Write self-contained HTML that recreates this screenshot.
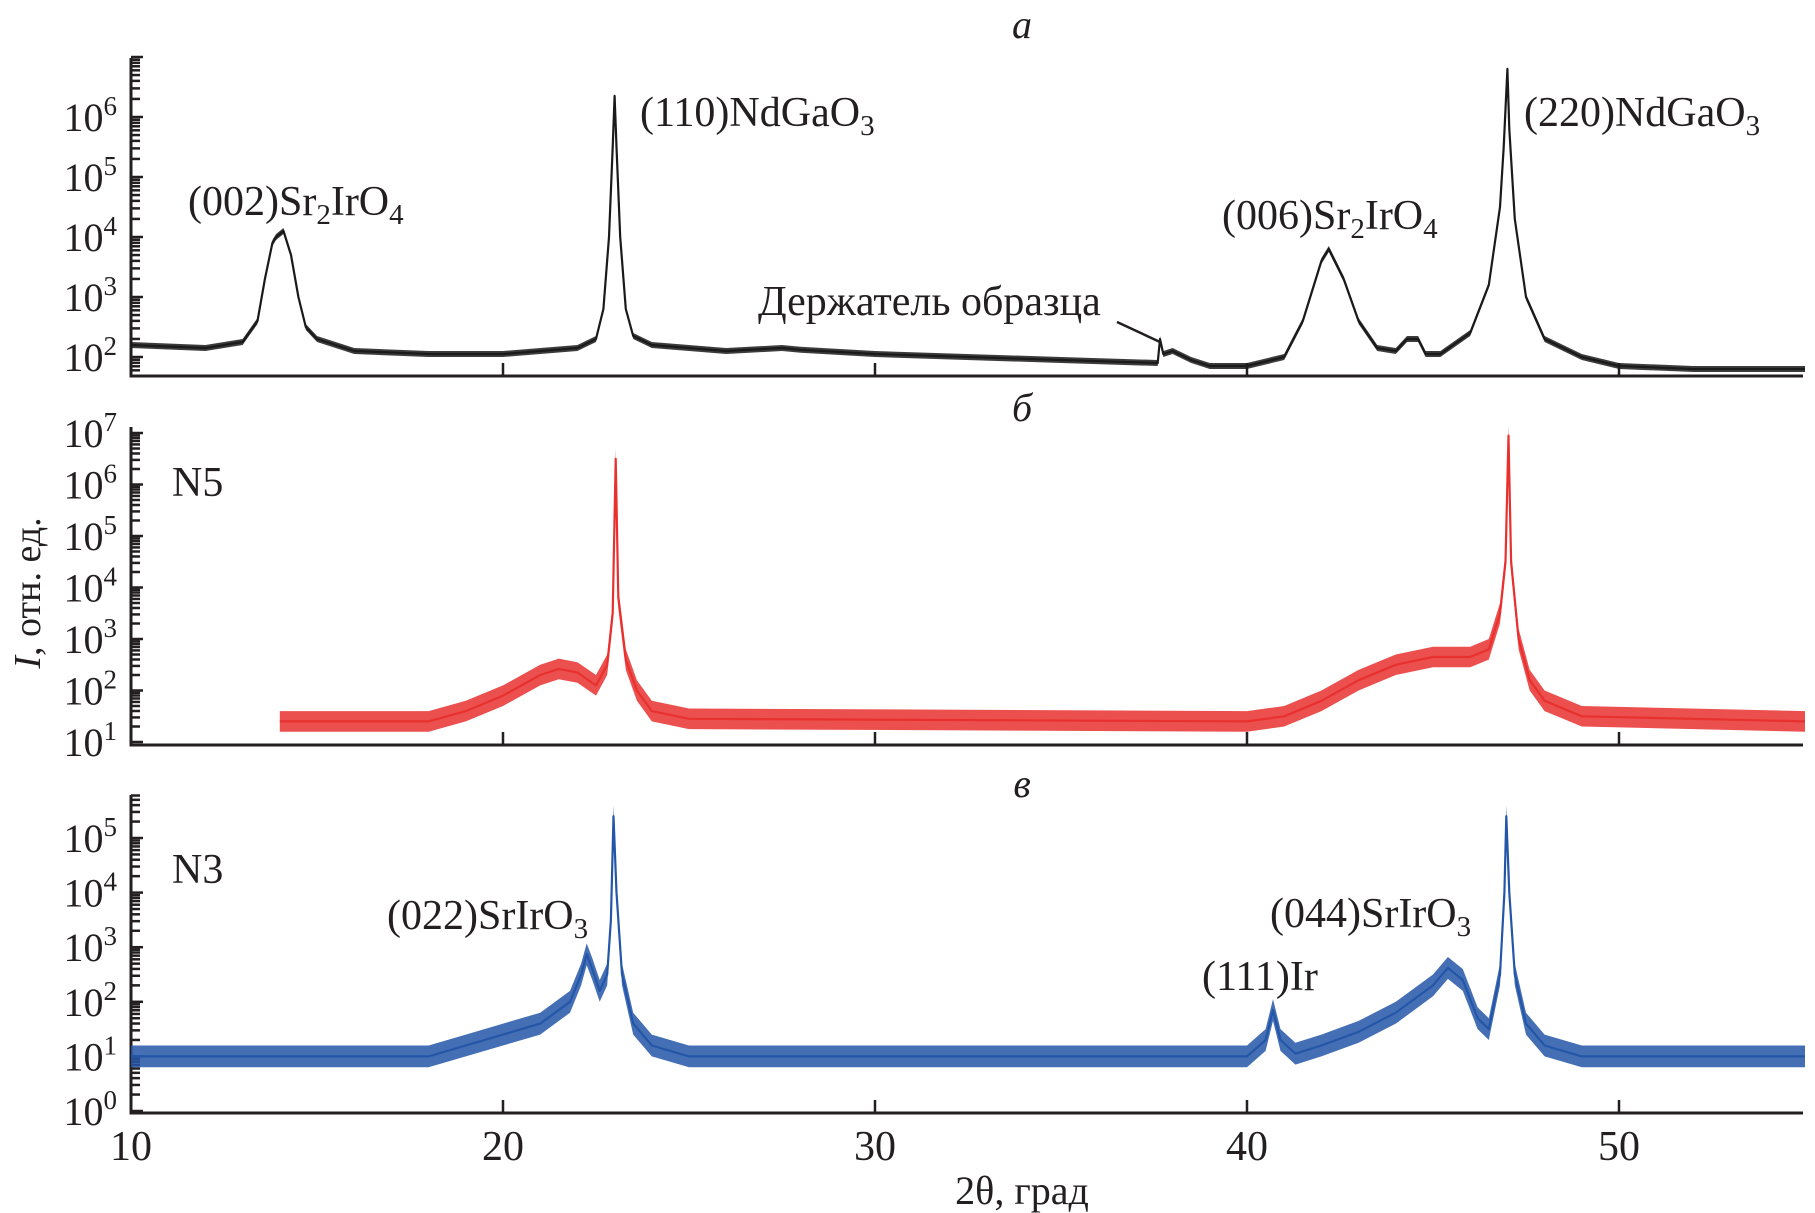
<!DOCTYPE html>
<html><head><meta charset="utf-8"><style>
html,body{margin:0;padding:0;background:#fff}
svg{display:block}
text{font-family:"Liberation Serif",serif;fill:#231f20}
</style></head><body>
<svg id="chart" width="1815" height="1213" viewBox="0 0 1815 1213" xmlns="http://www.w3.org/2000/svg">
<g id="axes"></g>
<g id="series"></g>
<g id="labels">
<text x="1022" y="38" font-size="40" font-style="italic" text-anchor="middle">а</text>
<text x="1022" y="421" font-size="40" font-style="italic" text-anchor="middle">б</text>
<text x="1022" y="797" font-size="40" font-style="italic" text-anchor="middle">в</text>
<text x="188" y="215" font-size="42">(002)Sr<tspan font-size="29" dy="9">2</tspan><tspan dy="-9">IrO</tspan><tspan font-size="29" dy="9">4</tspan></text>
<text x="640" y="126" font-size="42">(110)NdGaO<tspan font-size="29" dy="9">3</tspan></text>
<text x="1222" y="229" font-size="42">(006)Sr<tspan font-size="29" dy="9">2</tspan><tspan dy="-9">IrO</tspan><tspan font-size="29" dy="9">4</tspan></text>
<text x="1524" y="126" font-size="42">(220)NdGaO<tspan font-size="29" dy="9">3</tspan></text>
<text x="758" y="315" font-size="42">Держатель образца</text>
<line x1="1117" y1="322" x2="1160" y2="342" stroke="#231f20" stroke-width="2.5"/>
<text x="172" y="496" font-size="42">N5</text>
<text x="172" y="883" font-size="42">N3</text>
<text x="387" y="929" font-size="42">(022)SrIrO<tspan font-size="29" dy="9">3</tspan></text>
<text x="1202" y="990" font-size="42">(111)Ir</text>
<text x="1270" y="927" font-size="42">(044)SrIrO<tspan font-size="29" dy="9">3</tspan></text>
<text x="1022" y="1204" font-size="40" text-anchor="middle">2θ, град</text>
<text transform="translate(40,593) rotate(-90)" font-size="38" text-anchor="middle"><tspan font-style="italic">I</tspan>, отн. ед.</text>
</g>
</svg>
<script>
// x in degrees, y as log10(intensity)
const aX=[10,12,13,13.4,13.6,13.8,13.9,14.1,14.3,14.5,14.7,15,16,18,20,22,22.5,22.7,22.85,22.95,23.0,23.05,23.15,23.3,23.5,24,26,27.5,28,30,35,37.6,37.66,37.75,38.0,38.5,39,40,41,41.5,42,42.2,42.6,43,43.5,44,44.3,44.6,44.8,45.2,46,46.5,46.8,46.9,47.0,47.05,47.2,47.5,48,49,50,52,55];
const aY=[2.2,2.15,2.25,2.6,3.3,3.9,4.0,4.1,3.7,3.0,2.5,2.3,2.1,2.05,2.05,2.15,2.3,2.8,4.0,5.5,6.35,5.5,4.0,2.8,2.35,2.2,2.1,2.15,2.12,2.05,1.95,1.9,2.3,2.05,2.1,1.95,1.85,1.85,2.0,2.6,3.6,3.8,3.3,2.6,2.15,2.1,2.3,2.3,2.05,2.05,2.4,3.2,4.5,5.5,6.8,5.8,4.3,3.0,2.3,2.0,1.85,1.8,1.8];
const bX=[14,18,19,20,21,21.5,22,22.5,22.8,22.95,23.03,23.1,23.3,23.6,24,25,40,41,42,43,44,45,46,46.5,46.8,46.95,47.03,47.1,47.3,47.6,48,49,55];
const bY=[1.4,1.4,1.6,1.9,2.3,2.42,2.35,2.1,2.5,3.5,6.5,3.8,2.6,2.0,1.6,1.45,1.4,1.5,1.8,2.2,2.5,2.65,2.65,2.8,3.5,4.5,6.95,4.5,3.0,2.2,1.8,1.5,1.4];
const cX=[10,18,19,20,21,21.8,22.1,22.25,22.4,22.6,22.8,22.9,22.97,23.05,23.2,23.5,24,25,40,40.5,40.7,40.9,41.3,42,43,44,45,45.4,45.8,46.2,46.5,46.8,46.92,46.97,47.05,47.2,47.5,48,49,55];
const cY=[1.0,1.0,1.2,1.4,1.6,2.0,2.5,2.87,2.6,2.2,2.5,3.5,5.4,4.0,2.5,1.6,1.2,1.0,1.0,1.3,1.85,1.3,1.05,1.2,1.45,1.8,2.3,2.62,2.4,1.7,1.5,2.5,4.0,5.4,4.0,2.5,1.6,1.2,1.0,1.0];
const xTicks=[10,20,30,40,50];
const aDecades=[2,3,4,5,6];
const bDecades=[1,2,3,4,5,6,7];
const cDecades=[0,1,2,3,4,5];

const NS="http://www.w3.org/2000/svg";
const X0=131, XS=37.2, XR=1803;
function xs(v){return X0+(v-10)*XS;}
const panels=[
 {key:'a',top:58,bot:376,y0:357,l0:2,ds:60,minL:1.7,maxL:7,X:aX,Y:aY,dec:aDecades,color:'#1a1a1a',band:0.05,labels:false},
 {key:'b',top:427,bot:745,y0:742,l0:1,ds:51.5,minL:0.95,maxL:7.1,X:bX,Y:bY,dec:bDecades,color:'#e8312f',band:0.2,labels:false},
 {key:'c',top:795,bot:1113,y0:1111,l0:0,ds:54.6,minL:0,maxL:5.8,X:cX,Y:cY,dec:cDecades,color:'#2456a8',band:0.2,labels:true}
];
const axes=document.getElementById('axes'), series=document.getElementById('series');
function mk(tag,attrs,parent){const e=document.createElementNS(NS,tag);for(const k in attrs)e.setAttribute(k,attrs[k]);parent.appendChild(e);return e;}
panels.forEach(p=>{
 const ys=l=>p.y0-(l-p.l0)*p.ds;
 const g=mk('g',{},axes);
 
 
 const yl=mk('line',{x1:X0,y1:p.top,x2:X0,y2:p.bot,stroke:'#231f20','stroke-width':3},g);
 
 
 const xl=mk('line',{x1:X0-1.5,y1:p.bot,x2:XR,y2:p.bot,stroke:'#231f20','stroke-width':3},g);
 
 
 for(let d=Math.floor(p.minL)-1; d<=Math.ceil(p.maxL); d++){
  for(let m=1;m<10;m++){
   const l=d+Math.log10(m);
   if(l<p.minL||l>p.maxL) continue;
   const y=ys(l); if(y<p.top-1||y>p.bot-2) continue;
   const t=mk('line',{x1:X0,y1:y,x2:X0+(m===1?12:9),y2:y,stroke:'#231f20','stroke-width':2.5},g);
   
   
  }
 }
 p.dec.forEach(d=>{
  const y=ys(d);
  const t=mk('text',{x:117,y:y+14,'font-size':40,'text-anchor':'end'},g);
  t.textContent='10';
  const s=mk('tspan',{'font-size':27,dy:-16},t); s.textContent=String(d);
  
  
 });
 xTicks.forEach(v=>{
  if(v>10){
   const t=mk('line',{x1:xs(v),y1:p.bot,x2:xs(v),y2:p.bot-13,stroke:'#231f20','stroke-width':2.5},g);
   
   
  }
  if(p.labels){
   const t=mk('text',{x:xs(v),y:1160,'font-size':42,'text-anchor':'middle'},g);
   t.textContent=String(v);
   
   
  }
 });
 const clampY=y=>Math.min(p.bot-2,y);
 let up='',dn='';
 p.X.forEach((v,i)=>{up+=(i?'L':'M')+xs(v).toFixed(1)+','+clampY(ys(p.Y[i]+p.band)).toFixed(1);});
 for(let i=p.X.length-1;i>=0;i--){dn+='L'+xs(p.X[i]).toFixed(1)+','+clampY(ys(p.Y[i]-p.band)).toFixed(1);}
 const band=mk('path',{d:up+dn+'Z',fill:p.color,'fill-opacity':0.85,stroke:'none'},series);
 
 
 let d='';
 p.X.forEach((v,i)=>{d+=(i?'L':'M')+xs(v).toFixed(1)+','+ys(p.Y[i]).toFixed(1);});
 const line=mk('path',{d:d,fill:'none',stroke:p.color,'stroke-width':2.2,'stroke-linejoin':'round'},series);
 
 
});
</script>
</body></html>
